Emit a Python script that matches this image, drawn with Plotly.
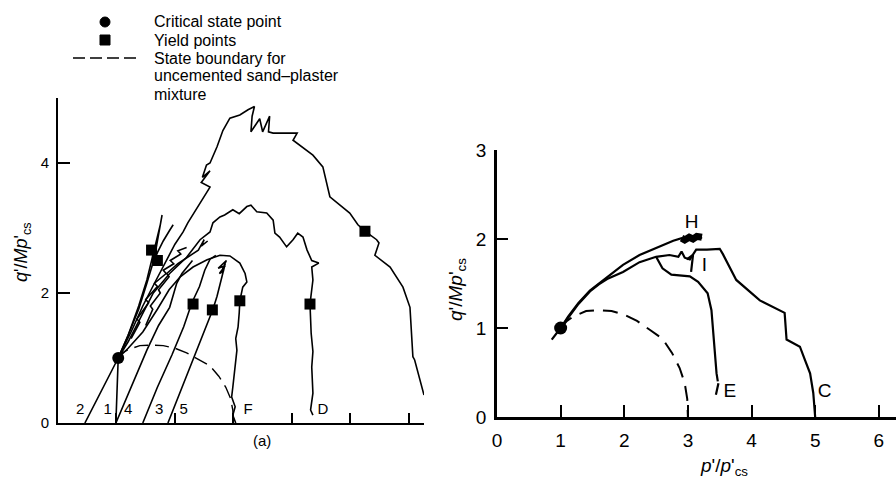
import plotly.graph_objects as go

# ---------------- data: left panel (a) ----------------
# state boundary for uncemented sand-plaster mixture (shared by both panels)
bound_x = [1.0, 1.1, 1.2, 1.4, 1.6, 1.8, 2.0, 2.2, 2.4, 2.6, 2.75, 2.87, 2.95, 2.99, 3.0]
bound_y = [1.0, 1.08, 1.13, 1.19, 1.2, 1.19, 1.15, 1.08, 0.98, 0.88, 0.72, 0.55, 0.38, 0.2, 0.0]

path2_x = [0.46, 0.75, 1.03, 1.2, 1.38, 1.52, 1.6, 1.66, 1.71, 1.75, 1.78, 1.72, 1.66]
path2_y = [0.0, 0.5, 1.0, 1.35, 1.8, 2.2, 2.5, 2.7, 2.9, 3.05, 3.2, 2.9, 2.6]

path1_x = [0.99, 1.0, 1.02, 1.03, 1.2, 1.38, 1.52, 1.62, 1.7, 1.8, 1.9, 1.97]
path1_y = [0.0, 0.35, 0.7, 1.0, 1.35, 1.75, 2.15, 2.45, 2.62, 2.8, 2.95, 3.05]

path4_x = [0.99, 1.25, 1.52, 1.72, 1.91, 2.03, 2.12, 2.3]
path4_y = [0.0, 0.55, 1.12, 1.5, 1.78, 2.15, 2.3, 2.5]

path3_x = [1.45, 1.7, 1.95, 2.15, 2.29, 2.42, 2.51, 2.6, 2.7]
path3_y = [0.0, 0.55, 1.05, 1.48, 1.85, 2.1, 2.35, 2.52, 2.58]

path5_x = [1.88, 2.1, 2.3, 2.5, 2.65, 2.72, 2.78, 2.82, 2.86, 2.78, 2.88, 2.74, 2.86, 2.76, 2.84]
path5_y = [0.0, 0.5, 0.98, 1.42, 1.75, 1.95, 2.15, 2.3, 2.45, 2.3, 2.5, 2.38, 2.42, 2.3, 2.35]

pathF_x = [3.04, 2.99, 3.03, 2.97, 2.99, 3.03, 3.06, 3.04, 3.08, 3.1, 3.11, 3.16, 3.23, 3.2,
           3.11, 2.94, 2.77, 2.55, 2.31, 2.09, 1.9, 1.7, 1.45, 1.2, 1.03]
pathF_y = [0.0, 0.12, 0.25, 0.4, 0.55, 0.86, 1.12, 1.3, 1.48, 1.7, 1.88, 2.09, 2.17, 2.3,
           2.46, 2.57, 2.58, 2.51, 2.4, 2.25, 2.05, 1.75, 1.4, 1.15, 1.0]

pathD_x = [4.36, 4.32, 4.36, 4.34, 4.36, 4.33, 4.31, 4.36, 4.34, 4.46, 4.34, 4.26, 4.19, 4.1,
           4.02, 3.91, 3.79, 3.71, 3.68, 3.57, 3.4, 3.3, 3.23, 3.1, 2.99, 2.85, 2.77, 2.65,
           2.6, 2.43, 2.2, 1.91, 1.63, 1.4, 1.2, 1.03]
pathD_y = [0.12, 0.2, 0.46, 0.86, 1.1, 1.38, 1.83, 2.2, 2.4, 2.46, 2.5, 2.66, 2.86, 2.92,
           2.82, 2.71, 2.86, 2.92, 3.12, 3.23, 3.25, 3.35, 3.33, 3.22, 3.28, 3.2, 3.17, 3.08,
           2.94, 2.82, 2.55, 2.3, 2.0, 1.6, 1.25, 1.0]

pathO_x = [6.26, 6.1, 6.07, 6.02, 5.9, 5.68, 5.42, 5.49, 5.45, 5.25, 5.13, 4.99, 4.65, 4.53,
           4.36, 4.02, 4.09, 3.68, 3.6, 3.62, 3.5, 3.45, 3.3, 3.32, 3.36, 3.25, 3.11, 2.94,
           2.82, 2.72, 2.6, 2.54, 2.47, 2.6, 2.45, 2.6, 2.22, 2.14, 2.0, 1.85, 1.65, 1.45,
           1.25, 1.03]
pathO_y = [0.43, 0.97, 1.02, 1.78, 2.09, 2.4, 2.58, 2.77, 2.82, 2.95, 3.05, 3.23, 3.48, 3.94,
           4.12, 4.35, 4.46, 4.46, 4.48, 4.72, 4.48, 4.68, 4.48, 4.72, 4.87, 4.82, 4.74, 4.69,
           4.5, 4.25, 4.0, 3.97, 3.78, 3.88, 3.7, 3.63, 3.08, 2.94, 2.75, 2.5, 2.15, 1.8,
           1.4, 1.0]

scrib1_x = [1.25, 1.4, 1.35, 1.55, 1.5, 1.7, 1.65, 1.85, 1.8, 1.98, 1.92, 2.1, 2.05, 2.2]
scrib1_y = [1.3, 1.55, 1.6, 1.85, 1.9, 2.1, 2.15, 2.3, 2.35, 2.45, 2.5, 2.6, 2.65, 2.7]
scrib2_x = [1.5, 1.62, 1.58, 1.75, 1.72, 1.9, 1.86, 2.05, 2.4, 2.5, 2.45, 2.56]
scrib2_y = [1.5, 1.75, 1.8, 2.0, 2.05, 2.25, 2.3, 2.45, 2.66, 2.82, 2.72, 2.8]

yield_a_x = [1.6, 1.7, 2.31, 2.64, 3.11, 4.31, 5.25]
yield_a_y = [2.66, 2.5, 1.83, 1.74, 1.88, 1.83, 2.95]
crit_a_x = [1.03]
crit_a_y = [1.0]

labels_a = ["2", "1", "4", "3", "5", "F", "D"]
labels_a_x = [0.38, 0.85, 1.2, 1.73, 2.15, 3.25, 4.53]
labels_a_y = [0.2, 0.2, 0.2, 0.2, 0.2, 0.2, 0.2]

# ---------------- data: right panel ----------------
pathH_x = [0.86, 1.0, 1.12, 1.28, 1.46, 1.6, 1.74, 1.98, 2.24, 2.5, 2.77, 2.9, 2.95, 3.02,
           3.08, 3.14, 3.2, 3.22]
pathH_y = [0.87, 1.0, 1.13, 1.28, 1.42, 1.5, 1.57, 1.71, 1.82, 1.9, 1.98, 2.01, 1.99, 2.02,
           2.0, 2.03, 2.01, 2.02]

pathC_x = [1.0, 1.12, 1.28, 1.46, 1.6, 1.73, 1.98, 2.24, 2.5, 2.71, 2.85, 2.9, 2.95, 3.03,
           3.08, 3.13, 3.3, 3.5, 3.55, 3.76, 4.13, 4.52, 4.55, 4.76, 4.84, 4.92, 4.97, 5.0]
pathC_y = [1.0, 1.12, 1.27, 1.41, 1.49, 1.55, 1.63, 1.74, 1.8, 1.82, 1.8, 1.86, 1.79, 1.77,
           1.82, 1.88, 1.88, 1.89, 1.83, 1.54, 1.31, 1.17, 0.87, 0.79, 0.64, 0.49, 0.27, 0.0]

pathI_x = [2.98, 3.08, 3.05]
pathI_y = [1.77, 1.82, 1.63]

pathE_x = [2.5, 2.6, 2.74, 3.03, 3.16, 3.22, 3.31, 3.37, 3.39, 3.42, 3.45, 3.47, None, 3.48, 3.44]
pathE_y = [1.8, 1.67, 1.6, 1.58, 1.52, 1.47, 1.39, 1.2, 1.01, 0.75, 0.49, 0.4, None, 0.38, 0.25]

crit_b_x = [1.0]
crit_b_y = [1.0]

labels_b = ["H", "I", "E", "C"]
labels_b_x = [3.06, 3.26, 3.66, 5.15]
labels_b_y = [2.18, 1.69, 0.28, 0.28]

# ---------------- figure ----------------
W, H = 896, 478
FONT = "Liberation Sans, Arial, Helvetica, sans-serif"
fig = go.Figure()

def line(x, y, ax, w):
    xa, ya = ("x", "y") if ax == 1 else ("x2", "y2")
    fig.add_trace(go.Scatter(x=x, y=y, mode="lines", xaxis=xa, yaxis=ya,
                             line=dict(color="black", width=w), showlegend=False,
                             hoverinfo="skip"))

for px_, py_ in [(path2_x, path2_y), (path1_x, path1_y), (path4_x, path4_y),
                 (path3_x, path3_y), (path5_x, path5_y), (pathF_x, pathF_y),
                 (pathD_x, pathD_y), (pathO_x, pathO_y), (scrib1_x, scrib1_y),
                 (scrib2_x, scrib2_y)]:
    line(px_, py_, 1, 1.6)

fig.add_trace(go.Scatter(x=bound_x, y=bound_y, mode="lines", xaxis="x", yaxis="y",
                         line=dict(color="black", width=1.4, dash="14px,7px"),
                         showlegend=False))
fig.add_trace(go.Scatter(x=yield_a_x, y=yield_a_y, mode="markers", xaxis="x", yaxis="y",
                         marker=dict(symbol="square", size=11, color="black"),
                         showlegend=False))
fig.add_trace(go.Scatter(x=crit_a_x, y=crit_a_y, mode="markers", xaxis="x", yaxis="y",
                         marker=dict(symbol="circle", size=12, color="black"),
                         showlegend=False))
fig.add_trace(go.Scatter(x=labels_a_x, y=labels_a_y, mode="text", text=labels_a,
                         xaxis="x", yaxis="y",
                         textfont=dict(size=15, color="black", family=FONT),
                         showlegend=False))

for px_, py_ in [(pathH_x, pathH_y), (pathC_x, pathC_y), (pathI_x, pathI_y),
                 (pathE_x, pathE_y)]:
    line(px_, py_, 2, 2.2)
# thick scribble at H
fig.add_trace(go.Scatter(x=pathH_x[11:], y=pathH_y[11:], mode="lines", xaxis="x2", yaxis="y2",
                         line=dict(color="black", width=7), showlegend=False))
fig.add_trace(go.Scatter(x=bound_x, y=bound_y, mode="lines", xaxis="x2", yaxis="y2",
                         line=dict(color="black", width=2, dash="15px,9px"),
                         showlegend=False))
fig.add_trace(go.Scatter(x=crit_b_x, y=crit_b_y, mode="markers", xaxis="x2", yaxis="y2",
                         marker=dict(symbol="circle", size=13, color="black"),
                         showlegend=False))
fig.add_trace(go.Scatter(x=labels_b_x, y=labels_b_y, mode="text", text=labels_b,
                         xaxis="x2", yaxis="y2",
                         textfont=dict(size=19, color="black", family=FONT),
                         showlegend=False))

def fx(p):
    return p / W

def fy(p):
    return 1 - p / H

axis_common = dict(showline=True, linecolor="black", showgrid=False, zeroline=False,
                   ticks="inside", tickcolor="black", fixedrange=True, automargin=False)

fig.update_layout(
    template="none",
    width=W, height=H, margin=dict(l=0, r=0, t=0, b=0, pad=0), autosize=False,
    paper_bgcolor="white", plot_bgcolor="white",
    font=dict(family=FONT, color="black"),
    xaxis=dict(domain=[fx(58), fx(424)], range=[0, 6.26], tickvals=[1, 2, 3, 4, 5, 6],
               showticklabels=False, linewidth=2, ticklen=10, tickwidth=1.5,
               anchor="y", **axis_common),
    yaxis=dict(domain=[fy(423), fy(98)], range=[0, 5], tickvals=[0, 2, 4],
               tickfont=dict(size=15), linewidth=2, ticklen=12, tickwidth=1.5,
               ticklabelstandoff=4, anchor="x", **axis_common),
    xaxis2=dict(domain=[fx(497), 1.0], range=[0, 6.27], tickvals=[0, 1, 2, 3, 4, 5, 6],
                tickfont=dict(size=19), linewidth=2.5, ticklen=12, tickwidth=2,
                ticklabelstandoff=4, anchor="y2", **axis_common),
    yaxis2=dict(domain=[fy(417), fy(150)], range=[0, 3], tickvals=[0, 1, 2, 3],
                tickfont=dict(size=19), linewidth=2.5, ticklen=11, tickwidth=2,
                ticklabelstandoff=4, anchor="x2", **axis_common),
)

def note(text, x, y, size, angle=0, xanchor="center"):
    return dict(x=fx(x), y=fy(y), xref="paper", yref="paper", text=text,
                textangle=angle, showarrow=False, font=dict(size=size),
                xanchor=xanchor, yanchor="middle")

qlabel = "<i>q</i>'/<i>Mp</i>'<sub>cs</sub>"
ann = [
    note(qlabel, 22, 252, 18, -90),
    note(qlabel, 457, 290, 19, -90),
    note("<i>p</i>'/<i>p</i>'<sub>cs</sub>", 724, 467, 19),
    note("(a)", 262, 440, 15),
]
legend_lines = ["Critical state point", "Yield points", "State boundary for",
                "uncemented sand\u2013plaster", "mixture"]
for i, t in enumerate(legend_lines):
    ann.append(note(t, 152, 22 + 18 * i, 16, xanchor="left"))
fig.update_layout(annotations=ann)

shapes = [
    dict(type="circle", xref="paper", yref="paper", x0=fx(100), x1=fx(110), y0=fy(27), y1=fy(17),
         fillcolor="black", line=dict(color="black", width=1)),
    dict(type="rect", xref="paper", yref="paper", x0=fx(100), x1=fx(110), y0=fy(45), y1=fy(35),
         fillcolor="black", line=dict(color="black", width=1)),
    dict(type="line", xref="paper", yref="paper", x0=fx(73), x1=fx(136), y0=fy(58), y1=fy(58),
         line=dict(color="black", width=1.6, dash="12px,5px")),
]
fig.update_layout(shapes=shapes)

fig.write_html("out.html")
